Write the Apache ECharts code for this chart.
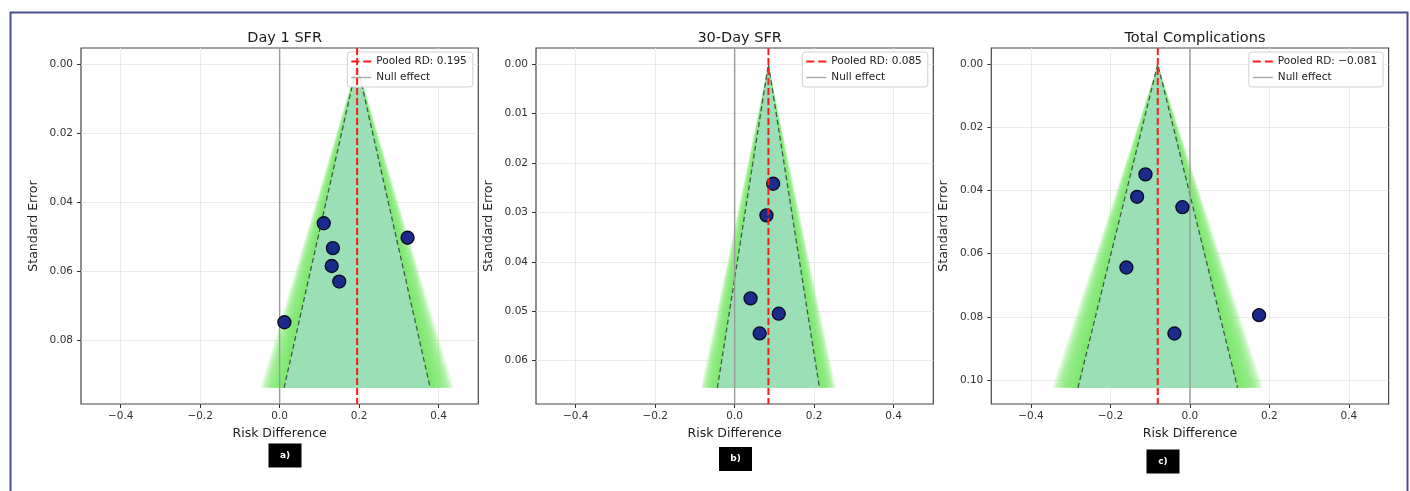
<!DOCTYPE html>
<html>
<head>
<meta charset="utf-8">
<script src="https://cdn.jsdelivr.net/npm/echarts@6/dist/echarts.min.js"></script>
<style>
html, body { margin: 0; padding: 0; background: #fff; }
#main { width: 1410px; height: 491px; }
</style>
</head>
<body>
<div id="main"></div>
<script>
// panel data
const titles = ['Day 1 SFR', '30-Day SFR', 'Total Complications'];
const panelTags = ['a)', 'b)', 'c)'];
const pooledRD = [0.195, 0.085, -0.081];
const seMax = [0.0938, 0.0655, 0.1025];

const day1RD = [0.111, 0.322, 0.134, 0.131, 0.150, 0.012];
const day1SE = [0.0461, 0.0503, 0.0533, 0.0585, 0.0630, 0.0748];
const day30RD = [0.097, 0.080, 0.040, 0.111, 0.063];
const day30SE = [0.0242, 0.0306, 0.0474, 0.0505, 0.0545];
const compRD = [-0.112, -0.133, -0.019, -0.160, 0.174, -0.039];
const compSE = [0.0349, 0.0420, 0.0453, 0.0644, 0.0795, 0.0853];

const studyRD = [day1RD, day30RD, compRD];
const studySE = [day1SE, day30SE, compSE];

const xTicks = [-0.4, -0.2, 0, 0.2, 0.4];
const yTicks = [
    [0, 0.02, 0.04, 0.06, 0.08],
    [0, 0.01, 0.02, 0.03, 0.04, 0.05, 0.06],
    [0, 0.02, 0.04, 0.06, 0.08, 0.10],
];
// outer (fading) band multipliers, then the 95% band
const outerZ = [2.58, 2.52, 2.46, 2.4, 2.33, 2.26, 2.19, 2.12, 2.05];
const innerZ = 1.96;

const FONT = 'DejaVu Sans';
const gridLeft = [81, 536, 991.3];
const gridW = 397.3;
const gridTop = 48;
const gridH = 356;
const tagBox = [[268.5, 443.5], [719, 447], [1146.5, 449.5]];

const minus = s => String(s).replace('-', '\u2212');

const chart = echarts.init(document.getElementById('main'));

let grids = [], xAxes = [], yAxes = [], series = [], legends = [], titleList = [], graphics = [];

titles.forEach((t, i) => {
    const p = pooledRD[i];
    const s = seMax[i];
    const yMin = -s * 0.05, yMax = s * 1.05;

    grids.push({
        left: gridLeft[i], top: gridTop, width: gridW, height: gridH,
        show: true, borderColor: '#444', borderWidth: 1.2,
        backgroundColor: 'transparent',
    });
    titleList.push({
        text: t,
        left: gridLeft[i] + gridW / 2, top: 26, textAlign: 'center',
        textStyle: { fontFamily: FONT, fontSize: 14.5, fontWeight: 'normal', color: '#1a1a1a' },
    });
    xAxes.push({
        gridIndex: i, type: 'value', min: -0.5, max: 0.5,
        name: 'Risk Difference', nameLocation: 'middle', nameGap: 20,
        nameTextStyle: { fontFamily: FONT, fontSize: 12.5, color: '#222', verticalAlign: 'top' },
        axisLine: { show: false, onZero: false },
        axisTick: { show: true, length: 4, customValues: xTicks, lineStyle: { color: '#333' } },
        axisLabel: {
            customValues: xTicks, margin: 7, fontFamily: FONT, fontSize: 10.5, color: '#333',
            formatter: v => minus(v.toFixed(1)),
        },
        splitLine: { show: true, lineStyle: { color: '#e6e6e6', width: 0.8 } },
    });
    yAxes.push({
        gridIndex: i, type: 'value', inverse: true, min: yMin, max: yMax,
        name: 'Standard Error', nameLocation: 'middle', nameGap: 41, nameRotate: 90,
        nameTextStyle: { fontFamily: FONT, fontSize: 12.5, color: '#222' },
        axisLine: { show: false, onZero: false },
        axisTick: { show: true, length: 4, customValues: yTicks[i], lineStyle: { color: '#333' } },
        axisLabel: {
            customValues: yTicks[i], margin: 8, fontFamily: FONT, fontSize: 10.5, color: '#333',
            formatter: v => v.toFixed(2),
        },
        splitLine: { show: true, lineStyle: { color: '#e6e6e6', width: 0.8 } },
    });

    // funnel bands
    const bands = outerZ.map(z => [z, 'rgba(118,230,104,0.26)']).concat([[innerZ, '#9bdfb6']]);
    series.push({
        type: 'custom', xAxisIndex: i, yAxisIndex: i, silent: true, z: 1,
        data: bands.map(b => [p, s]),
        renderItem: (params, api) => {
            const b = bands[params.dataIndex];
            const pts = [[p, 0], [p + b[0] * s, s], [p - b[0] * s, s]].map(d => api.coord(d));
            return { type: 'polygon', shape: { points: pts }, style: { fill: b[1] } };
        },
    });
    // 95% limits
    series.push({
        type: 'line', xAxisIndex: i, yAxisIndex: i, silent: true, z: 2, symbol: 'none',
        data: [[p - innerZ * s, s], [p, 0], [p + innerZ * s, s]],
        lineStyle: { color: 'rgba(40,60,45,0.8)', width: 1.3, type: [5, 3] },
    });
    // null effect
    series.push({
        name: 'Null effect', type: 'line', xAxisIndex: i, yAxisIndex: i, z: 3, symbol: 'none',
        data: [[0, yMin], [0, yMax]],
        lineStyle: { color: '#9a9a9a', width: 1.4 },
        itemStyle: { color: '#a8a8a8' },
    });
    // studies
    series.push({
        type: 'scatter', xAxisIndex: i, yAxisIndex: i, z: 4,
        symbolSize: 13,
        data: studyRD[i].map((x, k) => [x, studySE[i][k]]),
        itemStyle: { color: '#1c2a8c', borderColor: '#0a0a1e', borderWidth: 1.3, opacity: 1 },
    });
    // pooled estimate
    const pooledName = 'Pooled RD: ' + minus(p.toFixed(3));
    series.push({
        name: pooledName, type: 'line', xAxisIndex: i, yAxisIndex: i, z: 5, symbol: 'none',
        data: [[p, yMin], [p, yMax]],
        lineStyle: { color: '#ff1a1a', width: 2, type: [7, 3] },
        itemStyle: { color: '#ff1a1a' },
    });
    legends.push({
        data: [
            { name: pooledName, icon: 'path://M0,0h8v2h-8z M12,0h8v2h-8z' },
            { name: 'Null effect', icon: 'path://M0,0h20v1.4h-20z' },
        ],
        orient: 'vertical', right: 1410 - (gridLeft[i] + gridW) + 5.5, top: 52,
        itemWidth: 20, itemHeight: 2, itemGap: 5,
        padding: [4, 6, 4, 4],
        backgroundColor: 'rgba(255,255,255,0.85)', borderColor: '#d0d0d0', borderWidth: 1, borderRadius: 3,
        selectedMode: false,
        textStyle: { fontFamily: FONT, fontSize: 10.5, color: '#222' },
    });

    graphics.push({
        type: 'group', left: tagBox[i][0], top: tagBox[i][1],
        children: [
            { type: 'rect', shape: { x: 0, y: 0, width: 33, height: 24 }, style: { fill: '#000' } },
            {
                type: 'text', x: 16.5, y: 12,
                style: { text: panelTags[i], fill: '#fff', font: 'bold 9px ' + FONT, align: 'center', verticalAlign: 'middle' },
            },
        ],
    });
});

graphics.push({
    type: 'rect', left: 8, top: 10, silent: true,
    shape: { x: 0, y: 0, width: 1397, height: 495 },
    style: { fill: 'none', stroke: '#4a4f94', lineWidth: 2 },
});

chart.setOption({
    animation: false,
    backgroundColor: '#fff',
    title: titleList,
    grid: grids,
    xAxis: xAxes,
    yAxis: yAxes,
    legend: legends,
    series: series,
    graphic: graphics,
});
</script>
</body>
</html>
